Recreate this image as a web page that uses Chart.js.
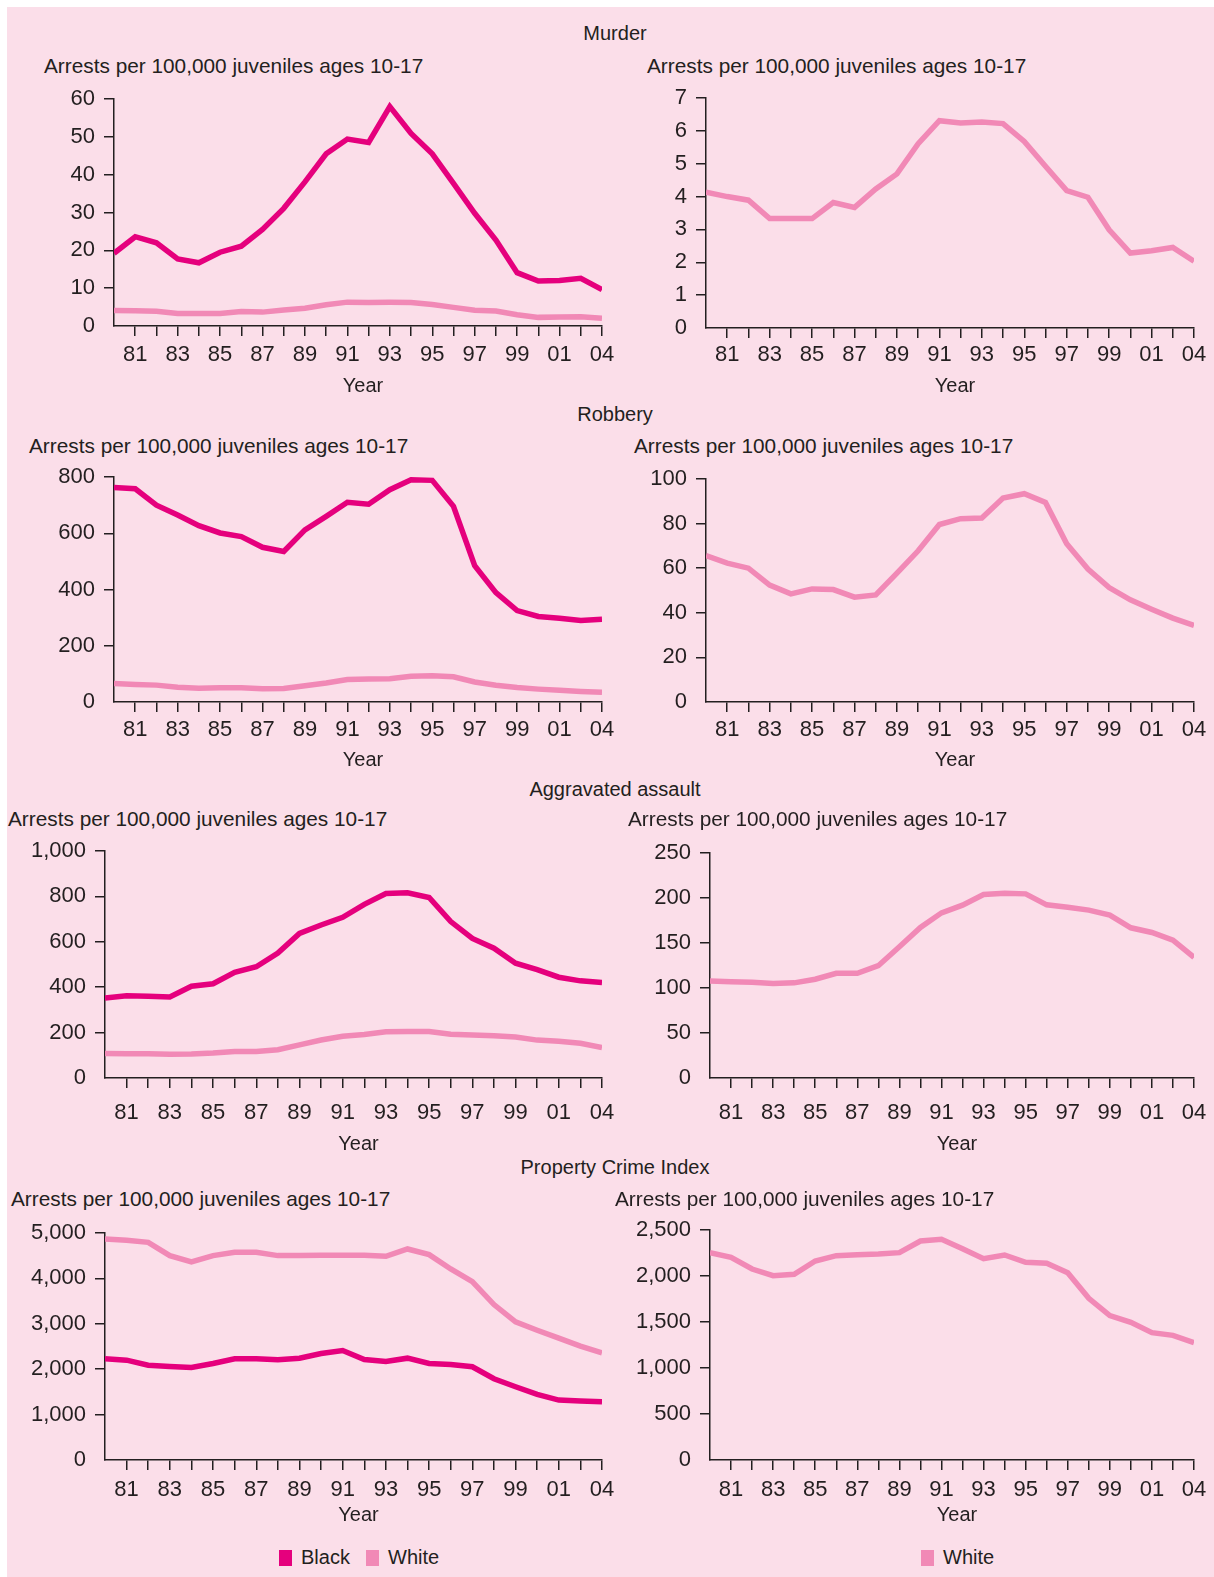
<!DOCTYPE html>
<html>
<head>
<meta charset="utf-8">
<script src="https://cdn.jsdelivr.net/npm/chart.js@4.4.1/dist/chart.umd.min.js"></script>
<style>
  body { margin: 0; background: #fff; }
  #page { position: relative; width: 1214px; height: 1577px; overflow: hidden; }
  #bg { position: absolute; left: 7px; top: 7px; right: 0; bottom: 0; background: #fbdee9; }
  .txt { position: absolute; font-family: "Liberation Sans", Arial, sans-serif; font-size: 20px;
         line-height: 24px; color: #231f20; white-space: nowrap; }
  .ttl { font-size: 20.8px; }
  .head { transform: translateX(-50%); }
  .box { display: inline-block; width: 13px; height: 16px; vertical-align: -2px; margin-right: 9px; }
  canvas { position: absolute; }
</style>
</head>
<body>
<div id="page"><div id="bg"></div></div>
<script>
// years on the x axis (the last tick is printed "04" in the original)
var years = [1980, 1981, 1982, 1983, 1984, 1985, 1986, 1987, 1988, 1989, 1990, 1991,
             1992, 1993, 1994, 1995, 1996, 1997, 1998, 1999, 2000, 2001, 2002, 2003];
var tickYears = years.slice(1);
var tickLabels = ['81', '', '83', '', '85', '', '87', '', '89', '', '91', '', '93', '', '95', '', '97', '', '99', '', '01', '', '04'];

var murderBlack = [19.2, 23.6, 22.0, 17.7, 16.7, 19.5, 21.1, 25.5, 31.1, 38.1, 45.5, 49.4,
                   48.5, 58.0, 50.9, 45.5, 37.7, 29.8, 22.7, 14.1, 11.9, 12.0, 12.6, 9.6];
var murderWhite = [4.13, 4.0, 3.89, 3.33, 3.33, 3.33, 3.82, 3.67, 4.23, 4.69, 5.61, 6.31,
                   6.24, 6.27, 6.22, 5.68, 4.92, 4.18, 3.98, 2.99, 2.28, 2.35, 2.45, 2.03];

var robberyBlack = [763, 758, 700, 665, 627, 601, 588, 550, 535, 612, 660, 710,
                    703, 755, 790, 788, 696, 485, 389, 325, 304, 298, 290, 294];
var robberyWhite = [65.6, 62.3, 60.0, 52.4, 48.5, 50.7, 50.4, 47.0, 48.0, 57.8, 67.8, 79.6,
                    82.2, 82.5, 91.5, 93.4, 89.5, 71.0, 59.6, 51.3, 45.8, 41.6, 37.6, 34.3];

var assaultBlack = [352, 362, 360, 357, 404, 415, 466, 490, 550, 637, 674, 708,
                    765, 813, 816, 795, 689, 615, 572, 506, 477, 444, 428, 421];
var assaultWhite = [107.8, 107, 106.3, 104.9, 105.7, 109.7, 116.3, 116.3, 124.8, 145.9, 167.3, 183.5,
                    192, 203.8, 205.3, 204.6, 192.4, 189.8, 186.5, 181, 166.9, 161.7, 153.2, 134];

// property crime: left panel as printed, right panel read separately
var propertyBlack = [2229, 2199, 2089, 2060, 2038, 2126, 2229, 2229, 2207, 2243, 2346, 2412,
                     2214, 2170, 2243, 2126, 2104, 2053, 1789, 1613, 1444, 1320, 1298, 1283];
var propertyWhite = [4868, 4839, 4795, 4502, 4362, 4502, 4575, 4575, 4502, 4502, 4509, 4509,
                     4509, 4487, 4648, 4523, 4208, 3930, 3424, 3043, 2859, 2683, 2507, 2361];
var propertyWhiteOnly = [2254, 2203, 2076, 2004, 2018, 2163, 2221, 2232, 2239, 2254, 2380, 2399,
                         2297, 2188, 2228, 2149, 2138, 2036, 1757, 1569, 1496, 1384, 1355, 1275];

var BLACK_COL = '#e5007d';
var WHITE_COL = '#f189b6';
var INK = '#231f20';
var FONT = '"Liberation Sans", Arial, sans-serif';

var sections = [
  { text: 'Murder', y: 33 },
  { text: 'Robbery', y: 414 },
  { text: 'Aggravated assault', y: 789 },
  { text: 'Property Crime Index', y: 1167 }
];

var panels = [
  { x0: 114, x1: 602, y0: 99, y1: 326, max: 60, step: 10, xPad: 6, xh: 72, tx: 44, ty: 66,
    series: [[murderWhite, WHITE_COL], [murderBlack, BLACK_COL]] },
  { x0: 706, x1: 1194, y0: 98, y1: 328, max: 7, step: 1, xPad: 4, xh: 70, tx: 647, ty: 66,
    series: [[murderWhite, WHITE_COL]] },
  { x0: 114, x1: 602, y0: 477, y1: 702, max: 800, step: 100, labelEvery: 200, xPad: 5, xh: 70, tx: 29, ty: 446,
    series: [[robberyWhite, WHITE_COL], [robberyBlack, BLACK_COL]] },
  { x0: 706, x1: 1194, y0: 479, y1: 702, max: 100, step: 20, xPad: 5, xh: 70, tx: 634, ty: 446,
    series: [[robberyWhite, WHITE_COL]] },
  { x0: 105, x1: 602, y0: 851, y1: 1078, max: 1000, step: 200, xPad: 12, xh: 78, tx: 8, ty: 819,
    series: [[assaultWhite, WHITE_COL], [assaultBlack, BLACK_COL]] },
  { x0: 710, x1: 1194, y0: 853, y1: 1078, max: 250, step: 50, xPad: 12, xh: 78, tx: 628, ty: 819,
    series: [[assaultWhite, WHITE_COL]] },
  { x0: 105, x1: 602, y0: 1233, y1: 1460, max: 5000, step: 1000, xPad: 7, xh: 67, tx: 11, ty: 1199,
    series: [[propertyWhite, WHITE_COL], [propertyBlack, BLACK_COL]] },
  { x0: 710, x1: 1194, y0: 1230, y1: 1460, max: 2500, step: 500, xPad: 7, xh: 67, tx: 615, ty: 1199,
    series: [[propertyWhiteOnly, WHITE_COL]] }
];

var page = document.getElementById('page');

function addText(html, x, y, cls) {
  var d = document.createElement('div');
  d.className = 'txt' + (cls ? ' ' + cls : '');
  d.style.left = x + 'px';
  d.style.top = (y - 12) + 'px';
  d.innerHTML = html;
  page.appendChild(d);
}

sections.forEach(function (s) { addText(s.text, 615, s.y, 'head'); });

var YW = 90, PT = 28, PR = 32;

panels.forEach(function (p) {
  addText('Arrests per 100,000 juveniles ages 10-17', p.tx, p.ty, 'ttl');

  var c = document.createElement('canvas');
  c.width = YW + (p.x1 - p.x0) + PR;
  c.height = PT + (p.y1 - p.y0) + p.xh;
  c.style.left = (p.x0 - YW) + 'px';
  c.style.top = (p.y0 - PT) + 'px';
  page.appendChild(c);

  new Chart(c, {
    type: 'line',
    data: {
      datasets: p.series.map(function (s) {
        return {
          data: years.map(function (yr, i) { return { x: yr, y: s[0][i] }; }),
          borderColor: s[1],
          borderWidth: 5.5,
          borderJoinStyle: 'miter',
          pointRadius: 0,
          tension: 0,
          fill: false
        };
      })
    },
    options: {
      responsive: false,
      animation: false,
      layout: { padding: { left: 0, top: PT, right: PR, bottom: 0 } },
      plugins: { legend: { display: false }, tooltip: { enabled: false } },
      scales: {
        x: {
          type: 'linear',
          min: years[0],
          max: years[years.length - 1],
          afterBuildTicks: function (s) { s.ticks = tickYears.map(function (v) { return { value: v }; }); },
          afterFit: function (s) { s.height = p.xh; },
          ticks: {
            autoSkip: false, maxRotation: 0, padding: p.xPad, color: INK,
            font: { family: FONT, size: 22 },
            callback: function (v) { return tickLabels[tickYears.indexOf(v)]; }
          },
          grid: { drawOnChartArea: false, drawTicks: true, tickLength: 10, color: INK, lineWidth: 1.5 },
          border: { display: true, color: INK, width: 1.5 },
          title: { display: true, text: '\u2002Year', color: INK, font: { family: FONT, size: 20 }, padding: { top: 0, bottom: 0 } }
        },
        y: {
          min: 0,
          max: p.max,
          afterFit: function (s) { s.width = YW; },
          ticks: {
            stepSize: p.step, padding: 9, color: INK,
            font: { family: FONT, size: 22 },
            callback: function (v) {
              if (p.labelEvery && v % p.labelEvery !== 0) return '';
              return v.toLocaleString('en-US');
            }
          },
          grid: {
            drawOnChartArea: false, drawTicks: true, tickLength: 10, lineWidth: 1.5,
            color: function (ctx) { return ctx.tick && ctx.tick.value === 0 ? 'rgba(0,0,0,0)' : INK; }
          },
          border: { display: true, color: INK, width: 1.5 }
        }
      }
    }
  });
});

// legends under the bottom row
addText('<span class="box" style="background:' + BLACK_COL + '"></span>Black', 279, 1557);
addText('<span class="box" style="background:' + WHITE_COL + '"></span>White', 366, 1557);
addText('<span class="box" style="background:' + WHITE_COL + '"></span>White', 921, 1557);
</script>
</body>
</html>
